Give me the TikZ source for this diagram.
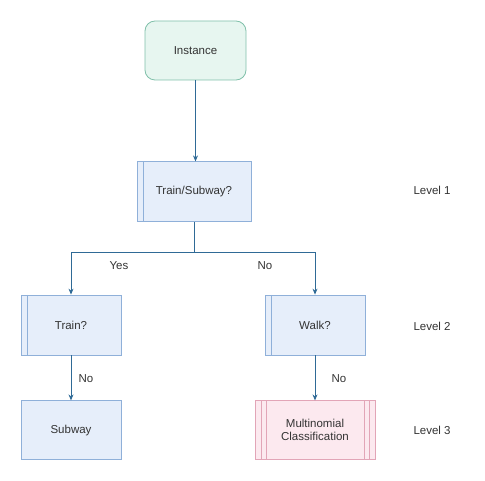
\documentclass[tikz,border=0pt]{standalone}
\usepackage{fontspec}
\setmainfont{Liberation Sans}
\usetikzlibrary{positioning,arrows.meta}
\definecolor{txtgray}{HTML}{333333}
\definecolor{linkblue}{HTML}{2F6A96}
\definecolor{startfill}{HTML}{E7F6F0}
\definecolor{startline}{HTML}{80C0AA}
\definecolor{qfill}{HTML}{E6EEFA}
\definecolor{qline}{HTML}{8FB0D9}
\definecolor{mfill}{HTML}{FCE9EF}
\definecolor{mline}{HTML}{E2A5B7}

\begin{document}
\begin{tikzpicture}
		[x=1pt,y=1pt,
		font=\fontsize{11.5}{13}\selectfont, text=txtgray,
		start/.style={rectangle,rounded corners=10pt,draw=startline,fill=startfill,line width=0.8pt,minimum width=101pt,minimum height=59pt},
		leaf/.style={rectangle,draw=qline,fill=qfill,line width=0.8pt,minimum width=100pt,minimum height=59pt},
		question/.style={leaf,minimum height=60pt,
			path picture={\draw[qline,line width=0.8pt] ([xshift=6pt]path picture bounding box.north west) -- ([xshift=6pt]path picture bounding box.south west);}},
		model/.style={rectangle,draw=mline,fill=mfill,line width=0.8pt,minimum width=120pt,minimum height=59pt,align=center,
			path picture={\foreach \d in {6,11}{
				\draw[mline,line width=0.8pt] ([xshift=\d pt]path picture bounding box.north west) -- ([xshift=\d pt]path picture bounding box.south west);
				\draw[mline,line width=0.8pt] ([xshift=-\d pt]path picture bounding box.north east) -- ([xshift=-\d pt]path picture bounding box.south east);}}},
		link/.style={draw=linkblue,line width=0.8pt,-{Stealth[length=6pt,width=5pt]}}]
		\useasboundingbox (0,0) rectangle (485,-481);

		\node [start] (inst) at (195.5,-50.5) {Instance};
		\node [question,minimum width=114pt] (q1) [below=81pt of inst, xshift=-1.5pt] {Train/Subway?};
		\node [question] (train) at (71,-325) {Train?};
		\node [question] (walk) at (315,-325) {Walk?};
		\node [leaf] (subway) [below=45pt of train] {Subway};
		\node [model] (multi) [below=45pt of walk] {Multinomial\\Classification};

		\draw [link] (inst) -- (inst.south |- q1.north);
		\draw [link] (q1.south) -- ++(0,-30) -| (train.north);
		\draw [link] (q1.south) -- ++(0,-30) -| (walk.north);
		\draw [link] (train) -- (subway);
		\draw [link] (walk) -- (multi);

		\node (yes) at (119,-266) {Yes};
		\node (no1) at (265,-266) {No};
		\node (no2) at (86,-379) {No};
		\node (no3) at (339,-379) {No};

		\node [anchor=west] (lv1) at (410,-190) {Level 1};
		\node [anchor=west] (lv2) at (410,-326) {Level 2};
		\node [anchor=west] (lv3) at (410,-430) {Level 3};

	\end{tikzpicture}
\end{document}
